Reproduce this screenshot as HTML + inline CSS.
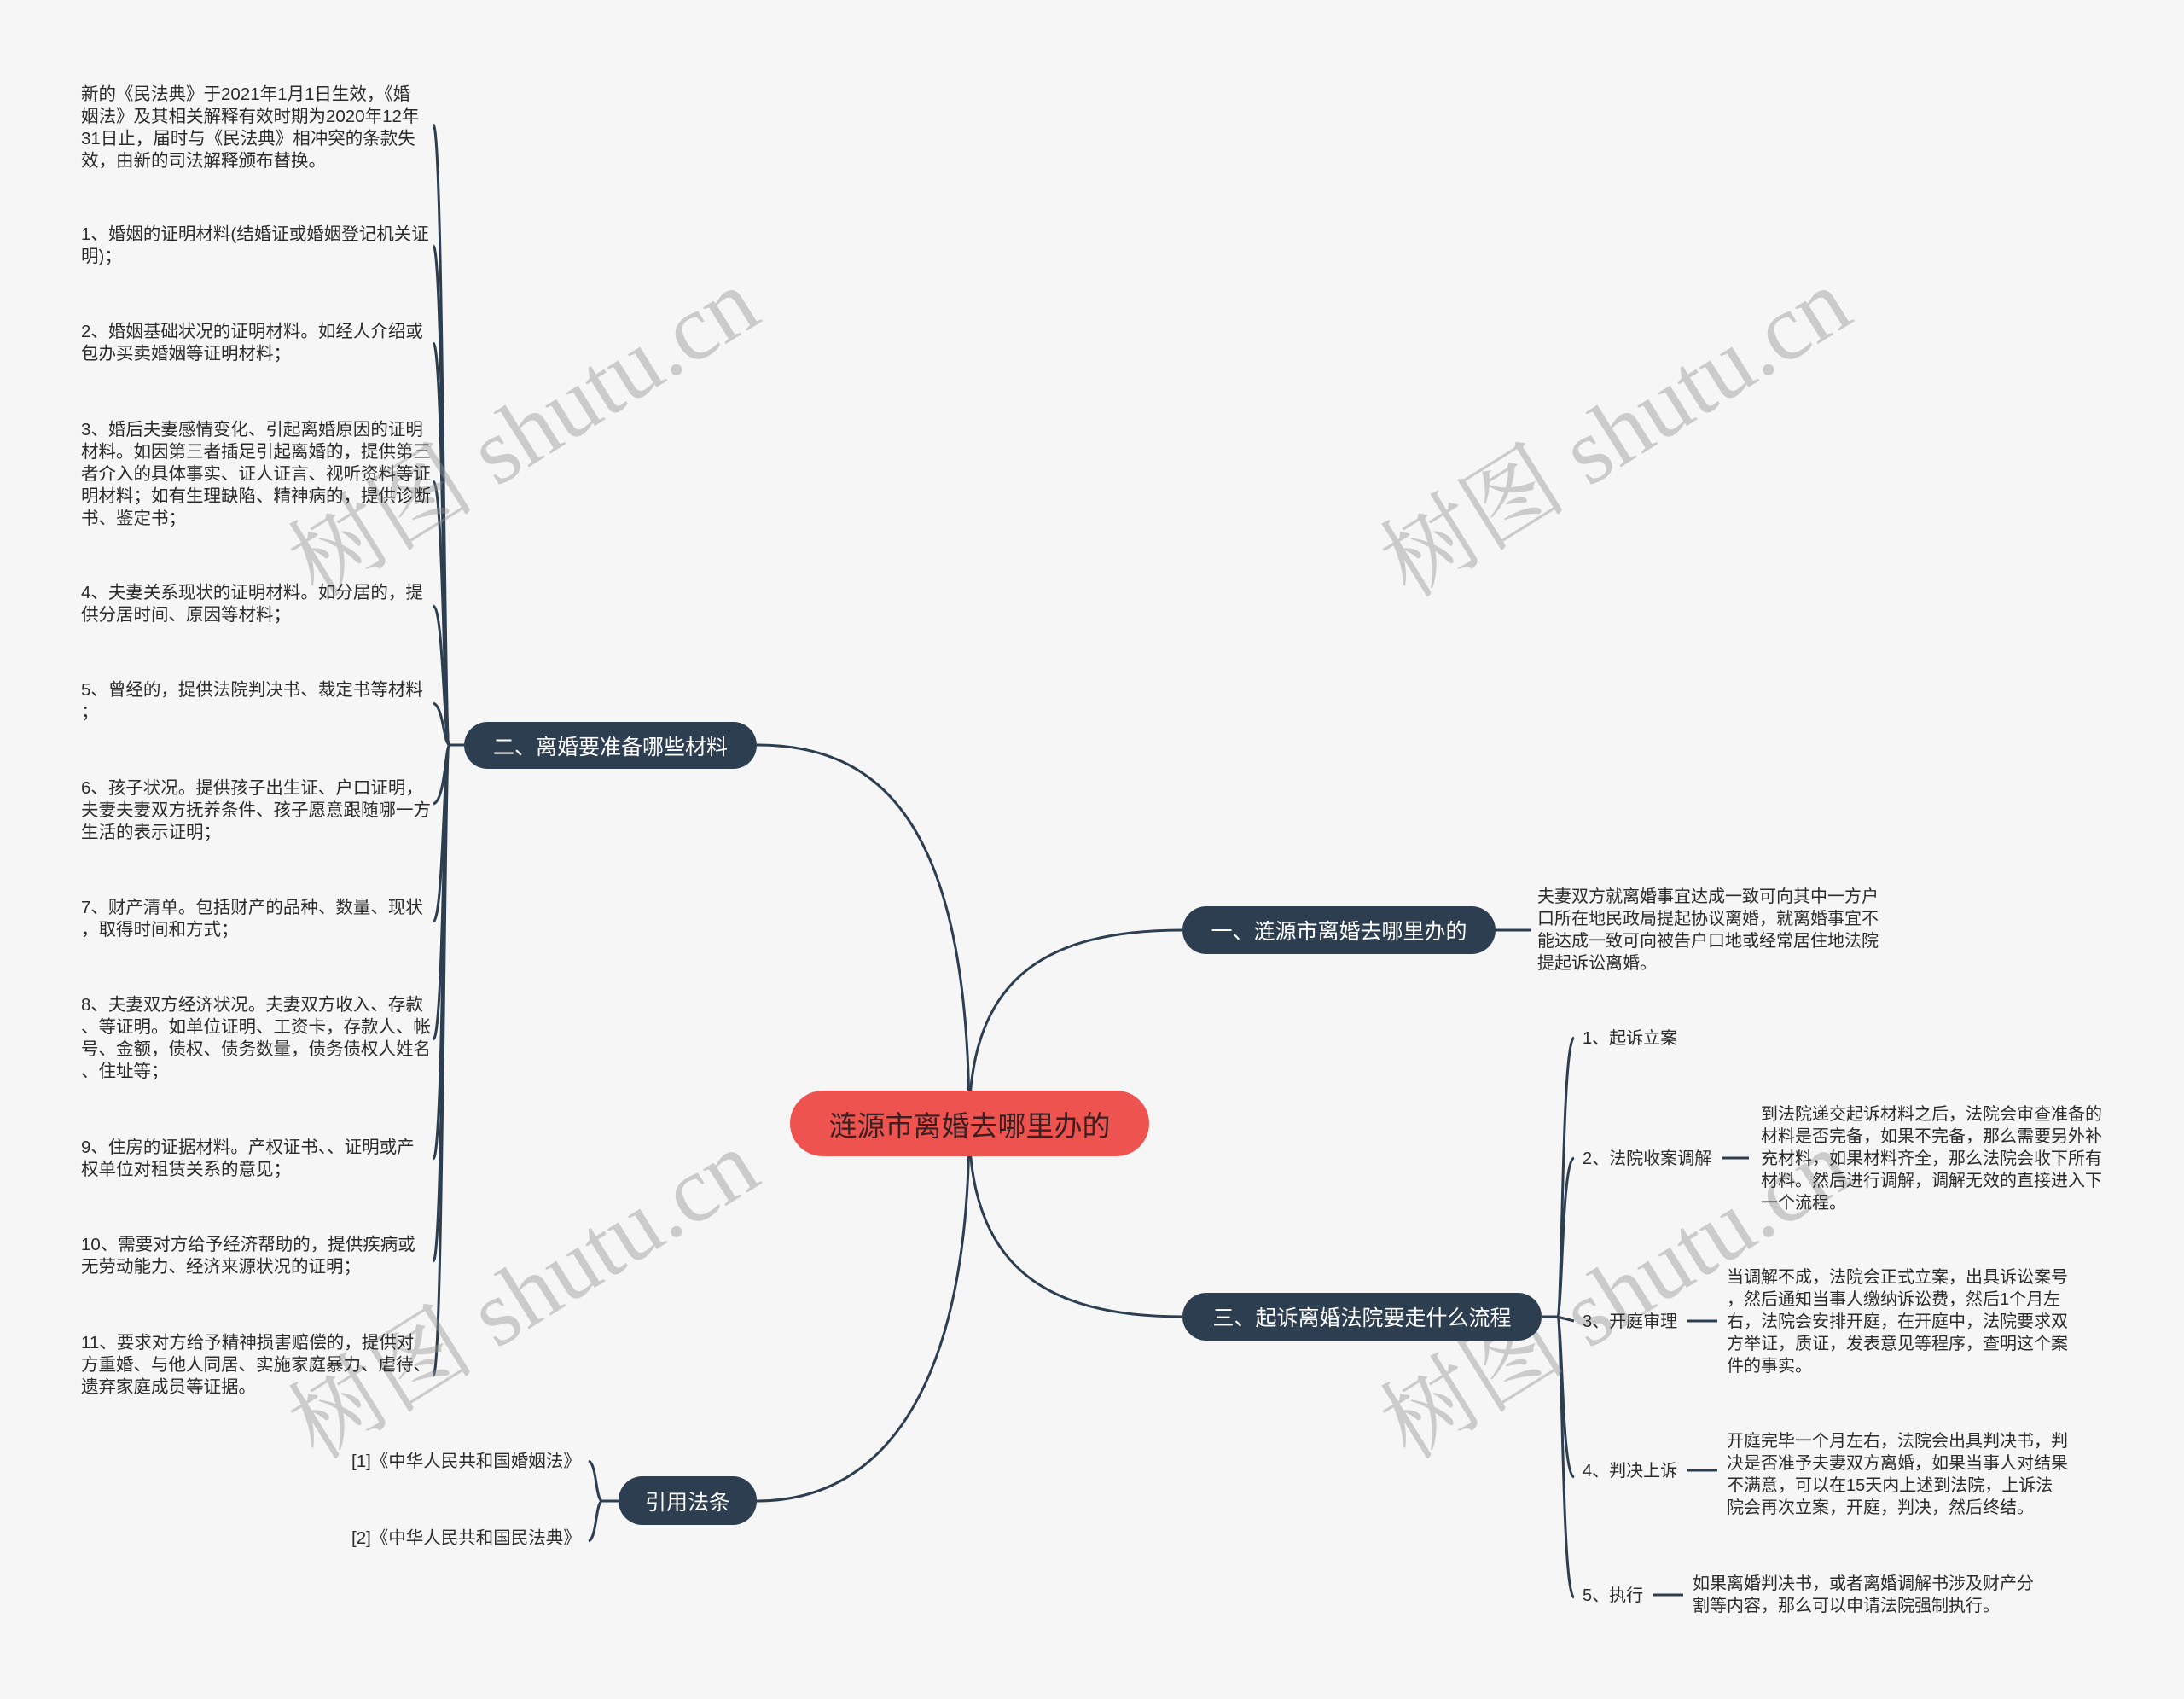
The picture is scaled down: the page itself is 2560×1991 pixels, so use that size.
<!DOCTYPE html>
<html><head><meta charset="utf-8">
<style>
html,body{margin:0;padding:0;}
body{width:2560px;height:1991px;background:#f6f6f6;position:relative;overflow:hidden;font-family:"Liberation Sans","Noto Sans CJK SC",sans-serif;color:#2b2b2b;}
.t{position:absolute;font-size:20px;line-height:26px;white-space:nowrap;}
.l{font-size:20.5px;}
.node{position:absolute;background:#2d3e50;color:#fff;border-radius:28px;font-size:25px;display:flex;align-items:center;justify-content:center;white-space:nowrap;}
.wm{position:absolute;font-family:"Liberation Serif","Noto Serif CJK SC",serif;font-size:110px;color:rgba(150,150,150,0.45);transform:rotate(-32deg);white-space:nowrap;}
svg{position:absolute;left:0;top:0;}
</style></head><body>
<svg width="2560" height="1991" fill="none" stroke="#2d3e50" stroke-width="3">
<path d="M1136 1316 C1136 960 1030 873 887 873"/>
<path d="M1136 1316 C1136 1150 1220 1090 1386 1090"/>
<path d="M1136 1316 C1136 1480 1220 1543 1386 1543"/>
<path d="M1136 1316 C1136 1620 1040 1759 887 1759"/>
<path d="M544 873 L527 873"/>
<path d="M527 873 C520 873 520 150 508 146"/>
<path d="M527 873 C520 873 520 292 508 288"/>
<path d="M527 873 C520 873 520 406 508 402"/>
<path d="M527 873 C520 873 520 568 508 564"/>
<path d="M527 873 C520 873 520 714 508 710"/>
<path d="M527 873 C520 873 520 828 508 824"/>
<path d="M527 873 C522 873 522 938 508 942"/>
<path d="M527 873 C520 873 520 1076 508 1080"/>
<path d="M527 873 C520 873 520 1214 508 1218"/>
<path d="M527 873 C520 873 520 1354 508 1358"/>
<path d="M527 873 C520 873 520 1474 508 1478"/>
<path d="M527 873 C520 873 520 1608 508 1612"/>
<path d="M1753 1090 L1795 1090"/>
<path d="M1807 1543 L1825 1543"/>
<path d="M1825 1543 C1832 1543 1830 1220 1845 1216"/>
<path d="M1825 1543 C1832 1543 1830 1361 1845 1357"/>
<path d="M1825 1543 L1845 1548"/>
<path d="M1825 1543 C1832 1543 1830 1727 1845 1731"/>
<path d="M1825 1543 C1832 1543 1830 1868 1845 1872"/>
<path d="M2018 1357 L2050 1357"/>
<path d="M1977 1548 L2013 1548"/>
<path d="M1977 1723 L2013 1723"/>
<path d="M1938 1869 L1973 1869"/>
<path d="M725 1759 L706 1759"/>
<path d="M706 1759 C698 1759 700 1716 690 1712"/>
<path d="M706 1759 C698 1759 700 1802 690 1806"/>
</svg>

<div class="wm" style="left:300px;top:420px;">树图 shutu.cn</div>
<div class="wm" style="left:1580px;top:420px;">树图 shutu.cn</div>
<div class="wm" style="left:300px;top:1430px;">树图 shutu.cn</div>
<div class="wm" style="left:1580px;top:1430px;">树图 shutu.cn</div>

<div style="position:absolute;left:926px;top:1278px;width:421px;height:77px;background:#ef5350;border-radius:39px;display:flex;align-items:center;justify-content:center;font-size:33px;color:#3a2020;white-space:nowrap;">涟源市离婚去哪里办的</div>

<div class="node" style="left:544px;top:846px;width:343px;height:55px;">二、离婚要准备哪些材料</div>
<div class="node" style="left:1386px;top:1062px;width:367px;height:56px;">一、涟源市离婚去哪里办的</div>
<div class="node" style="left:1386px;top:1515px;width:421px;height:56px;">三、起诉离婚法院要走什么流程</div>
<div class="node" style="left:725px;top:1730px;width:162px;height:57px;">引用法条</div>

<div class="t l" style="left:95px;top:98px;">新的《民法典》于2021年1月1日生效，《婚<br>姻法》及其相关解释有效时期为2020年12年<br>31日止，届时与《民法典》相冲突的条款失<br>效，由新的司法解释颁布替换。</div>
<div class="t l" style="left:95px;top:262px;">1、婚姻的证明材料(结婚证或婚姻登记机关证<br>明)；</div>
<div class="t l" style="left:95px;top:376px;">2、婚姻基础状况的证明材料。如经人介绍或<br>包办买卖婚姻等证明材料；</div>
<div class="t l" style="left:95px;top:491px;">3、婚后夫妻感情变化、引起离婚原因的证明<br>材料。如因第三者插足引起离婚的，提供第三<br>者介入的具体事实、证人证言、视听资料等证<br>明材料；如有生理缺陷、精神病的，提供诊断<br>书、鉴定书；</div>
<div class="t l" style="left:95px;top:682px;">4、夫妻关系现状的证明材料。如分居的，提<br>供分居时间、原因等材料；</div>
<div class="t l" style="left:95px;top:796px;">5、曾经的，提供法院判决书、裁定书等材料<br>；</div>
<div class="t l" style="left:95px;top:911px;">6、孩子状况。提供孩子出生证、户口证明，<br>夫妻夫妻双方抚养条件、孩子愿意跟随哪一方<br>生活的表示证明；</div>
<div class="t l" style="left:95px;top:1051px;">7、财产清单。包括财产的品种、数量、现状<br>，取得时间和方式；</div>
<div class="t l" style="left:95px;top:1165px;">8、夫妻双方经济状况。夫妻双方收入、存款<br>、等证明。如单位证明、工资卡，存款人、帐<br>号、金额，债权、债务数量，债务债权人姓名<br>、住址等；</div>
<div class="t l" style="left:95px;top:1332px;">9、住房的证据材料。产权证书、、证明或产<br>权单位对租赁关系的意见；</div>
<div class="t l" style="left:95px;top:1446px;">10、需要对方给予经济帮助的，提供疾病或<br>无劳动能力、经济来源状况的证明；</div>
<div class="t l" style="left:95px;top:1561px;">11、要求对方给予精神损害赔偿的，提供对<br>方重婚、与他人同居、实施家庭暴力、虐待、<br>遗弃家庭成员等证据。</div>

<div class="t l" style="left:412px;top:1700px;">[1]《中华人民共和国婚姻法》</div>
<div class="t l" style="left:412px;top:1790px;">[2]《中华人民共和国民法典》</div>

<div class="t" style="left:1802px;top:1038px;">夫妻双方就离婚事宜达成一致可向其中一方户<br>口所在地民政局提起协议离婚，就离婚事宜不<br>能达成一致可向被告户口地或经常居住地法院<br>提起诉讼离婚。</div>

<div class="t" style="left:1855px;top:1204px;">1、起诉立案</div>
<div class="t" style="left:1855px;top:1345px;">2、法院收案调解</div>
<div class="t" style="left:1855px;top:1536px;">3、开庭审理</div>
<div class="t" style="left:1855px;top:1711px;">4、判决上诉</div>
<div class="t" style="left:1855px;top:1857px;">5、执行</div>

<div class="t" style="left:2064px;top:1293px;">到法院递交起诉材料之后，法院会审查准备的<br>材料是否完备，如果不完备，那么需要另外补<br>充材料，如果材料齐全，那么法院会收下所有<br>材料。然后进行调解，调解无效的直接进入下<br>一个流程。</div>
<div class="t" style="left:2024px;top:1484px;">当调解不成，法院会正式立案，出具诉讼案号<br>，然后通知当事人缴纳诉讼费，然后1个月左<br>右，法院会安排开庭，在开庭中，法院要求双<br>方举证，质证，发表意见等程序，查明这个案<br>件的事实。</div>
<div class="t" style="left:2024px;top:1676px;">开庭完毕一个月左右，法院会出具判决书，判<br>决是否准予夫妻双方离婚，如果当事人对结果<br>不满意，可以在15天内上述到法院，上诉法<br>院会再次立案，开庭，判决，然后终结。</div>
<div class="t" style="left:1984px;top:1843px;">如果离婚判决书，或者离婚调解书涉及财产分<br>割等内容，那么可以申请法院强制执行。</div>
</body></html>
